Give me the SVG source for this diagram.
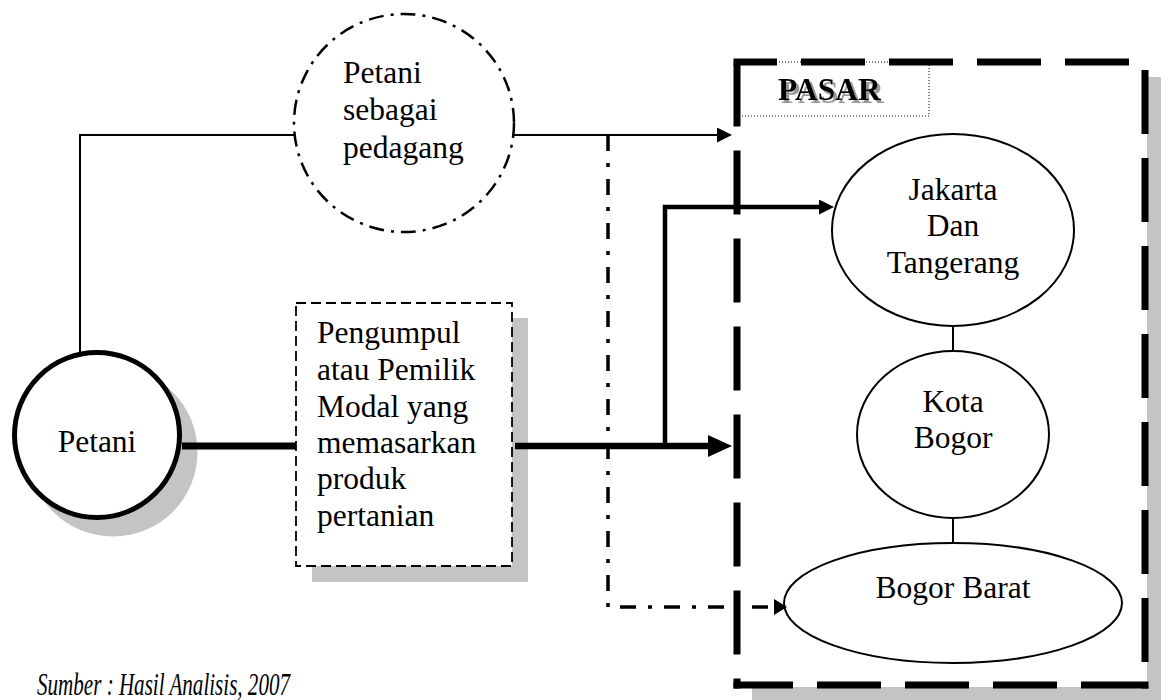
<svg xmlns="http://www.w3.org/2000/svg" width="1161" height="700" viewBox="0 0 1161 700">
<style>
text{font-family:"Liberation Serif","Times New Roman",serif;font-size:31.5px;fill:#000}
.c{text-anchor:middle}
.shadow{fill:#c4c4c4}
.node{fill:#fff;stroke:#000;stroke-width:2}
.bd{fill:none;stroke:#000;stroke-width:7}
</style>
<defs>
<filter id="ts" x="-10%" y="-20%" width="130%" height="150%">
<feOffset in="SourceAlpha" dx="2.5" dy="2.5" result="o"/>
<feFlood flood-color="#999999"/>
<feComposite in2="o" operator="in" result="s"/>
<feMerge><feMergeNode in="s"/><feMergeNode in="SourceGraphic"/></feMerge>
</filter>
<marker id="aThin" markerUnits="userSpaceOnUse" viewBox="0 0 15 15" markerWidth="15" markerHeight="15" refX="1" refY="7.5" orient="auto"><path d="M0,0 L15,7.5 L0,15 z" fill="#000"/></marker>
<marker id="aThick" markerUnits="userSpaceOnUse" viewBox="0 0 24 22" markerWidth="24" markerHeight="22" refX="1" refY="11" orient="auto"><path d="M0,0 L24,11 L0,22 z" fill="#000"/></marker>
<marker id="aMed" markerUnits="userSpaceOnUse" viewBox="0 0 15 15" markerWidth="15" markerHeight="15" refX="1" refY="7.5" orient="auto"><path d="M0,0 L15,7.5 L0,15 z" fill="#000"/></marker>
<marker id="aDD" markerUnits="userSpaceOnUse" viewBox="0 0 13 16" markerWidth="13" markerHeight="16" refX="1" refY="8" orient="auto"><path d="M0,0 L13,8 L0,16 z" fill="#000"/></marker>
</defs>
<rect width="1161" height="700" fill="#fff"/>

<g id="pasar">
<rect class="shadow" x="752" y="77" width="420" height="630"/>
<rect x="737" y="62" width="410" height="625" fill="#fff"/>
<rect x="737" y="62" width="192" height="54" fill="none" stroke="#000" stroke-width="1" stroke-dasharray="1 2"/>
<text x="778" y="100" font-weight="bold" filter="url(#ts)">PASAR</text>
<line class="bd" x1="733.5" y1="62" x2="1145" y2="62" stroke-dasharray="43.5 24 64 24 64 24 64 24 64 200"/>
<line class="bd" x1="737" y1="62.5" x2="737" y2="688.5" stroke-dasharray="64 24"/>
<line class="bd" x1="733.5" y1="685" x2="1148.5" y2="685" stroke-dasharray="59.5 24 64 24 64 24 64 24 67.5 50"/>
<line class="bd" x1="1145" y1="70" x2="1145" y2="688.5" stroke-dasharray="64 24"/>
</g>

<g id="petani">
<circle class="shadow" cx="113" cy="452" r="85" stroke="#fff" stroke-width="1"/>
<circle cx="97" cy="435" r="82.5" fill="#fff" stroke="#000" stroke-width="5"/>
<text class="c" x="97" y="452">Petani</text>
</g>

<g id="petani-pedagang">
<ellipse cx="404" cy="123" rx="110" ry="109" fill="#fff" stroke="#000" stroke-width="2.5" stroke-dasharray="15 7 3 7"/>
<text x="343" y="83">Petani</text>
<text x="343" y="120">sebagai</text>
<text x="343" y="158">pedagang</text>
</g>

<g id="pengumpul">
<rect class="shadow" x="312" y="318" width="216" height="264"/>
<rect x="296" y="303" width="216" height="263" fill="#fff" stroke="#000" stroke-width="1.8" stroke-dasharray="10 5"/>
<text x="317" y="343">Pengumpul</text>
<text x="317" y="380">atau Pemilik</text>
<text x="317" y="417">Modal yang</text>
<text x="317" y="453">memasarkan</text>
<text x="317" y="489">produk</text>
<text x="317" y="526">pertanian</text>
</g>

<g id="jakarta">
<ellipse class="node" cx="953" cy="230" rx="121" ry="96"/>
<text class="c" x="953" y="200">Jakarta</text>
<text class="c" x="953" y="236">Dan</text>
<text class="c" x="953" y="273">Tangerang</text>
</g>

<g id="kota-bogor">
<ellipse class="node" cx="953" cy="434.5" rx="96" ry="83.5"/>
<text class="c" x="953" y="412">Kota</text>
<text class="c" x="953" y="448">Bogor</text>
</g>

<g id="bogor-barat">
<ellipse class="node" cx="953" cy="603" rx="169" ry="60"/>
<text class="c" x="953" y="598">Bogor Barat</text>
</g>

<g id="connectors" fill="none" stroke="#000">
<path d="M80,352 V135 H294" stroke-width="2"/>
<path d="M514,135 H718" stroke-width="2" marker-end="url(#aThin)"/>
<path d="M182,446 H296" stroke-width="7"/>
<path d="M515,446 H709" stroke-width="6.5" marker-end="url(#aThick)"/>
<path d="M665,446 V207 H820" stroke-width="4.5" marker-end="url(#aMed)"/>
<path d="M608,135 V607 H775" stroke-width="3.5" stroke-dasharray="16 12 4 12" marker-end="url(#aDD)"/>
<line x1="953" y1="326" x2="953" y2="351" stroke-width="2"/>
<line x1="953" y1="518" x2="953" y2="543" stroke-width="2"/>
</g>

<g id="caption">
<text x="37" y="695" font-style="italic" font-size="19" textLength="253" lengthAdjust="spacingAndGlyphs">Sumber : Hasil Analisis, 2007</text>
</g>
</svg>
